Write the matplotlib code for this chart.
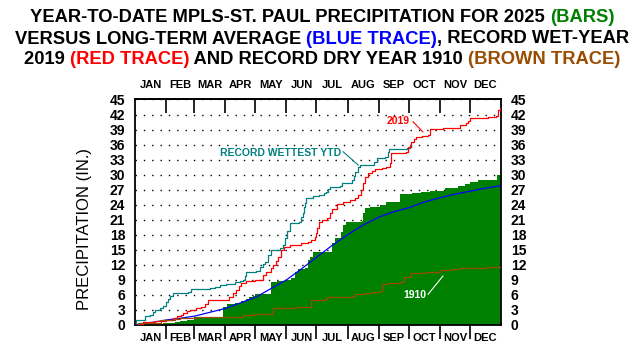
import matplotlib
matplotlib.use('Agg')
import matplotlib.pyplot as plt
from matplotlib.font_manager import FontProperties

plt.rcParams['font.family'] = 'Liberation Sans'

# month layout (day of year)
months = ['JAN', 'FEB', 'MAR', 'APR', 'MAY', 'JUN', 'JUL', 'AUG', 'SEP', 'OCT', 'NOV', 'DEC']
month_bounds = [0, 31, 59, 90, 120, 151, 181, 212, 243, 273, 304, 334, 365]

# 2025 year-to-date (green bars): day where total changes, cumulative inches
y2025_days = [0, 8, 20, 28, 33, 40, 45, 52, 59, 88, 92, 100, 106, 111, 114, 118, 120, 130,
              136, 142, 150, 156, 160, 163, 170, 173, 175, 178, 196, 199, 205, 207, 210, 226,
              227, 229, 234, 244, 250, 260, 264, 276, 285, 294, 309, 322, 329, 334, 342, 361, 365]
y2025_vals = [0.0, 0.1, 0.2, 0.3, 0.45, 0.6, 0.8, 1.0, 1.5, 3.65, 4.2, 4.4, 4.8, 5.2, 5.6, 5.85, 6.1, 6.2,
              8.5, 8.7, 8.9, 9.45, 10.5, 11.2, 11.3, 13.0, 13.6, 14.5, 16.3, 17.3, 18.5, 20.0, 20.6, 20.75,
              22.3, 23.3, 23.5, 23.95, 24.5, 24.6, 26.1, 26.4, 26.6, 26.75, 27.3, 27.7, 28.1, 28.5, 28.9, 29.9, 29.9]

# long-term average (blue)
normal_days = [0, 15, 31, 45, 59, 74, 90, 105, 121, 135, 151, 166, 181, 196, 212, 227, 243,
               258, 273, 288, 304, 319, 334, 349, 365]
normal_vals = [0.0, 0.45, 1.0, 1.35, 1.75, 2.5, 3.3, 4.4, 5.6, 7.2, 9.0, 11.2, 13.5, 15.8, 18.0, 19.9, 21.5,
               22.6, 23.4, 24.5, 25.4, 26.1, 26.7, 27.3, 27.8]

# record wet year 2019 (red)
y2019_days = [0, 3, 8, 20, 31, 38, 42, 46, 48, 52, 55, 61, 66, 70, 73, 94, 98, 101, 104, 106, 111,
              120, 128, 131, 136, 138, 141, 143, 146, 149, 155, 166, 173, 176, 180, 181, 182, 183,
              186, 191, 194, 196, 201, 207, 214, 219, 222, 225, 227, 229, 232, 236, 239, 246, 250,
              254, 255, 270, 272, 275, 278, 280, 286, 292, 294, 307, 318, 324, 330, 332, 334, 345,
              352, 360, 362, 364, 365]
y2019_vals = [0.0, 0.2, 0.5, 0.7, 1.0, 1.3, 1.7, 2.0, 2.3, 2.7, 3.0, 3.3, 3.6, 4.2, 5.0, 5.6, 6.3, 7.0, 7.7, 8.3, 8.85,
              9.0, 10.0, 10.6, 11.3, 12.0, 12.8, 13.6, 15.0, 15.6, 16.0, 16.3, 16.6, 17.0, 17.5, 18.3, 19.3, 20.6,
              21.0, 21.3, 22.3, 23.1, 24.2, 24.6, 25.0, 25.3, 25.9, 26.9, 28.3, 29.6, 30.3, 30.8, 31.1, 31.3, 31.6,
              32.3, 34.3, 34.6, 35.6, 36.6, 37.2, 37.6, 37.8, 37.9, 39.1, 39.25, 39.4, 39.9, 40.3, 40.8, 41.25, 41.4,
              41.6, 41.8, 42.9, 43.4, 43.4]

# record wettest year-to-date (teal)
wettest_days = [0, 1, 10, 15, 18, 20, 25, 28, 31, 33, 35, 38, 53, 56, 75, 80, 85, 91, 100, 105, 108,
                110, 111, 121, 125, 128, 130, 133, 136, 145, 148, 150, 152, 155, 164, 166, 168, 169,
                170, 171, 178, 183, 188, 190, 192, 194, 204, 206, 216, 218, 219, 222, 224, 238, 241,
                249, 252, 253, 271, 274, 275]
wettest_vals = [0.0, 1.0, 1.7, 2.0, 2.5, 3.0, 3.3, 3.8, 4.6, 5.1, 5.7, 6.3, 6.5, 7.1, 7.3, 7.6, 8.0, 8.2, 8.5, 8.7, 9.0,
                9.8, 10.6, 10.8, 11.6, 12.2, 12.6, 14.0, 15.0, 15.3, 16.0, 17.3, 18.8, 20.3, 20.6, 21.5, 22.3, 23.5,
                24.3, 25.3, 25.7, 25.9, 26.3, 26.6, 27.2, 27.6, 27.75, 28.3, 28.9, 29.8, 30.6, 31.6, 31.9, 32.6, 33.3,
                33.6, 34.6, 35.1, 35.3, 35.9, 35.9]

# record dry year 1910 (brown)
y1910_days = [0, 3, 26, 40, 45, 62, 100, 106, 108, 120, 134, 138, 160, 174, 176, 189, 191, 204, 217,
              219, 229, 236, 244, 246, 252, 264, 268, 275, 282, 290, 304, 315, 324, 350, 362, 365]
y1910_vals = [0.0, 0.46, 1.0, 1.13, 1.33, 1.53, 1.6, 1.66, 2.0, 2.1, 2.2, 3.3, 3.5, 3.65, 5.0, 5.1, 5.5, 5.6, 5.8,
              6.2, 6.3, 6.5, 6.8, 8.2, 8.3, 8.5, 9.6, 10.3, 10.45, 10.6, 10.9, 11.1, 11.4, 11.5, 11.6, 11.6]

GREEN = '#008000'
BLUE = '#0000ff'
RED = '#ff0000'
TEAL = '#008080'
BROWN = '#9a4c00'

fig = plt.figure(figsize=(6.44, 3.58), dpi=100)
ax = fig.add_axes([135 / 644, 33 / 358, 366 / 644, 225.5 / 358])

ax.fill_between(y2025_days, y2025_vals, step='post', color=GREEN, lw=0, zorder=2)
ax.plot(normal_days, normal_vals, color=BLUE, lw=0.9, zorder=4)
ax.step(wettest_days, wettest_vals, where='post', color=TEAL, lw=0.9, zorder=3)
ax.step(y2019_days, y2019_vals, where='post', color=RED, lw=0.9, zorder=4)
ax.step(y1910_days, y1910_vals, where='post', color=BROWN, lw=0.9, zorder=4)

ax.set_xlim(0, 365)
ax.set_ylim(0, 45)

# dotted grid behind the bars
ax.set_axisbelow(True)
ax.set_yticks(range(0, 46, 3))
ax.yaxis.grid(True, linestyle=(0, (1, 5)), color='black', lw=1.0)
ax.tick_params(axis='y', length=0, labelleft=True, labelright=True, pad=7, labelsize=10)
for lab in ax.get_yticklabels():
    lab.set_fontweight('bold')

mids = [(month_bounds[i] + month_bounds[i + 1]) / 2 for i in range(12)]
ax.set_xticks(month_bounds[1:-1])
ax.set_xticklabels([])
ax.set_xticks(mids, months, minor=True)
ax.tick_params(axis='x', which='major', direction='out', length=10, width=1.2)
ax.tick_params(axis='x', which='minor', length=0, pad=5.5, labelsize=8)
for lab in ax.get_xticklabels(minor=True):
    lab.set_fontweight('bold')

top = ax.secondary_xaxis('top')
top.set_xticks(month_bounds[1:-1])
top.set_xticklabels([])
top.set_xticks(mids, months, minor=True)
top.tick_params(axis='x', which='major', direction='in', length=10, width=1.2)
top.tick_params(axis='x', which='minor', length=0, pad=7, labelsize=8)
for lab in top.get_xticklabels(minor=True):
    lab.set_fontweight('bold')

for sp in ax.spines.values():
    sp.set_linewidth(1.3)
top.spines['top'].set_linewidth(1.3)

fig.text(85 / 644, 1 - 229 / 358, 'PRECIPITATION (IN.)', rotation=90, fontsize=12,
         ha='center', va='center')

# annotations
ax.text(145.6, 34.4, 'RECORD WETTEST YTD', color=TEAL, fontsize=7.5, fontweight='bold',
        ha='center', va='center')
ax.annotate('', xy=(222.7, 31.9), xytext=(207.4, 34.6),
            arrowprops=dict(arrowstyle='-', color=TEAL, lw=0.8, shrinkA=0, shrinkB=0))
ax.text(262.3, 40.7, '2019', color=RED, fontsize=7.5, fontweight='bold', ha='center', va='center')
ax.annotate('', xy=(287.2, 38.5), xytext=(277.2, 40.6),
            arrowprops=dict(arrowstyle='-', color=RED, lw=0.8, shrinkA=0, shrinkB=0))
ax.text(278.9, 6.0, '1910', color='white', fontsize=7.5, fontweight='bold', ha='center',
        va='center', zorder=5)
ax.annotate('', xy=(307.2, 9.8), xytext=(292.2, 6.1),
            arrowprops=dict(arrowstyle='-', color='white', lw=0.8, shrinkA=0, shrinkB=0), zorder=5)

# multi-coloured title
title_lines = [
    [('YEAR-TO-DATE MPLS-ST. PAUL PRECIPITATION FOR 2025 ', 'black'), ('(BARS)', GREEN)],
    [('VERSUS LONG-TERM AVERAGE ', 'black'), ('(BLUE TRACE)', BLUE), (', RECORD WET-YEAR', 'black')],
    [('2019 ', 'black'), ('(RED TRACE)', RED), (' AND RECORD DRY YEAR 1910 ', 'black'),
     ('(BROWN TRACE)', BROWN)],
]
title_y = [18, 39, 60]
title_fs = 13.2
renderer = fig.canvas.get_renderer()
prop = FontProperties(family='Liberation Sans', weight='bold', size=title_fs)


def text_width(s):
    w1 = renderer.get_text_width_height_descent(s + '|', prop, ismath=False)[0]
    w0 = renderer.get_text_width_height_descent('|', prop, ismath=False)[0]
    return w1 - w0


for pieces, ypix in zip(title_lines, title_y):
    full = ''.join(p for p, _ in pieces)
    x0 = 322 - text_width(full) / 2
    prefix = ''
    for s, c in pieces:
        x = x0 + text_width(prefix)
        fig.text(x / 644, 1 - ypix / 358, s, color=c, fontproperties=prop, ha='left', va='center')
        prefix += s

fig.savefig('out.png', dpi=100)
